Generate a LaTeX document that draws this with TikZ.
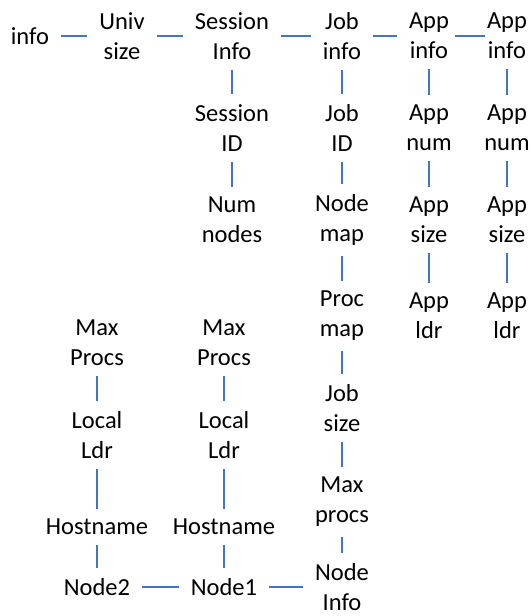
\documentclass[tikz,border=0pt]{standalone}
\usepackage{fontspec}
\setmainfont{Carlito}
\definecolor{linkblue}{HTML}{4472C4}
\tikzset{
  field/.style={align=center, inner xsep=8pt, inner ysep=6pt, font=\fontsize{24.5}{30}\selectfont},
  link/.style={linkblue, line width=1.2pt, shorten >=4pt, shorten <=4pt}
}
\begin{document}
\begin{tikzpicture}[node distance=92pt]
      \useasboundingbox (0,0) rectangle (532pt,-616pt);
      % top row
      \node[field] (info) at (30pt,-36pt) {info};
      \node[field, right of=info, node distance=92pt] (univ) {Univ\\size};
      \node[field, right of=univ, node distance=110pt] (sess) {Session\\Info};
      \node[field, right of=sess, node distance=110pt] (job) {Job\\info};
      \node[field, right of=job, node distance=87pt] (appA) {App\\info};
      \node[field, right of=appA, node distance=78pt] (appB) {App\\info};
      % session column
      \node[field, below of=sess] (sessid) {Session\\ID};
      \node[field, below of=sessid] (numnodes) {Num\\nodes};
      % job column
      \node[field, below of=job] (jobid) {Job\\ID};
      \node[field, below of=jobid] (nodemap) {Node\\map};
      \node[field, below of=nodemap, node distance=96pt] (procmap) {Proc\\map};
      \node[field, below of=procmap] (jobsize) {Job\\size};
      \node[field, below of=jobsize, node distance=94pt] (maxprocs) {Max\\procs};
      \node[field, below of=maxprocs, node distance=85pt] (nodeinfo) {Node\\Info};
      % app columns
      \node[field, below of=appA] (numA) {App\\num};
      \node[field, below of=numA] (sizeA) {App\\size};
      \node[field, below of=sizeA, node distance=96pt] (ldrA) {App\\ldr};
      \node[field, below of=appB] (numB) {App\\num};
      \node[field, below of=numB] (sizeB) {App\\size};
      \node[field, below of=sizeB, node distance=96pt] (ldrB) {App\\ldr};
      % node columns
      \node[field, left of=nodeinfo, node distance=118pt] (nodeA) {Node1};
      \node[field, left of=nodeA, node distance=127pt] (nodeB) {Node2};
      \node[field, above of=nodeA, node distance=60pt] (hostA) {Hostname};
      \node[field, above of=hostA] (localA) {Local\\Ldr};
      \node[field, above of=localA] (maxA) {Max\\Procs};
      \node[field, above of=nodeB, node distance=60pt] (hostB) {Hostname};
      \node[field, above of=hostB] (localB) {Local\\Ldr};
      \node[field, above of=localB] (maxB) {Max\\Procs};
      % links
      \draw[link] (info) -- (univ);
      \draw[link] (univ) -- (sess);
      \draw[link] (sess) -- (job);
      \draw[link] (job) -- (appA);
      \draw[link, shorten <=-2pt, shorten >=-6pt] (appA) -- (appB);
      \draw[link] (sess) -- (sessid);
      \draw[link] (sessid) -- (numnodes);
      \draw[link] (job) -- (jobid);
      \draw[link] (jobid) -- (nodemap);
      \draw[link] (nodemap) -- (procmap);
      \draw[link] (procmap) -- (jobsize);
      \draw[link] (jobsize) -- (maxprocs);
      \draw[link] (maxprocs) -- (nodeinfo);
      \draw[link] (appA) -- (numA);
      \draw[link] (numA) -- (sizeA);
      \draw[link] (sizeA) -- (ldrA);
      \draw[link] (appB) -- (numB);
      \draw[link] (numB) -- (sizeB);
      \draw[link] (sizeB) -- (ldrB);
      \draw[link] (nodeB) -- (nodeA);
      \draw[link] (nodeA) -- (nodeinfo);
      \draw[link] (maxA) -- (localA);
      \draw[link] (localA) -- (hostA);
      \draw[link] (hostA) -- (nodeA);
      \draw[link] (maxB) -- (localB);
      \draw[link] (localB) -- (hostB);
      \draw[link] (hostB) -- (nodeB);
    \end{tikzpicture}
\end{document}
